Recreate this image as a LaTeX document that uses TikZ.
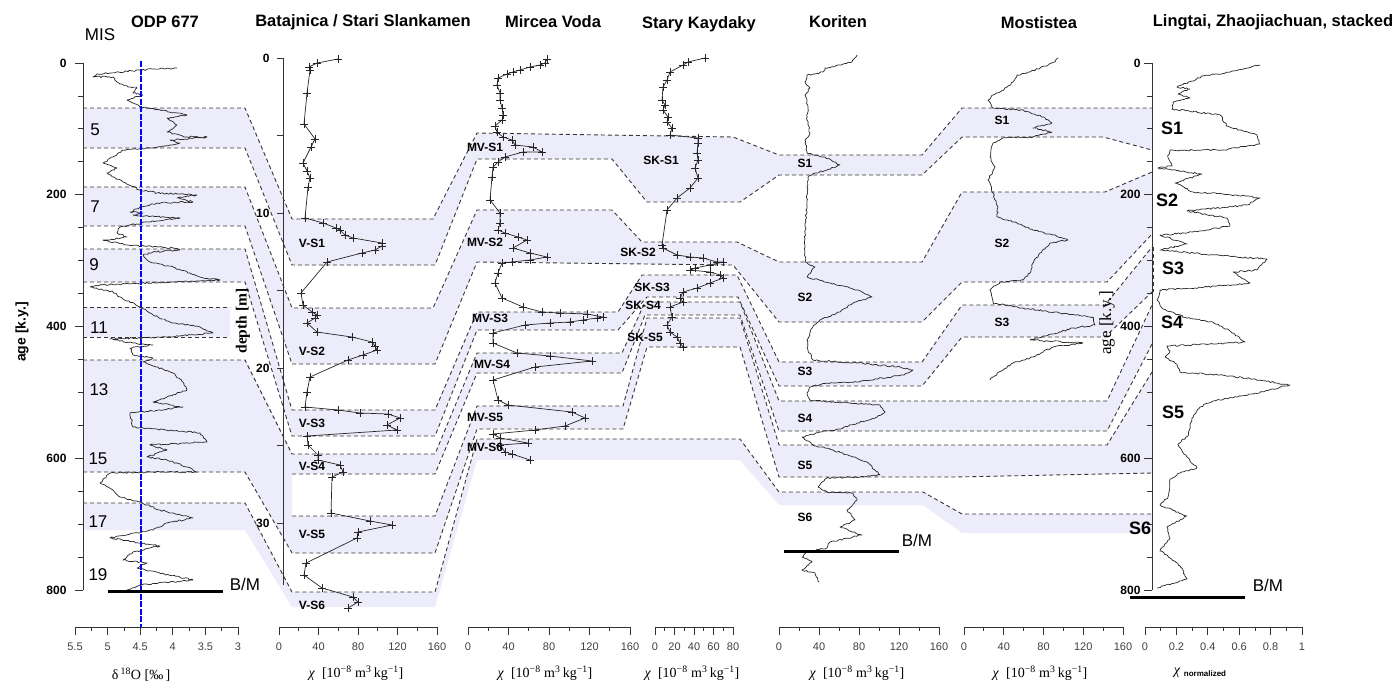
\documentclass[tikz,border=0pt]{standalone}
\usepackage{fontspec}
\setmainfont{Liberation Serif}
\setsansfont{Liberation Sans}
\usetikzlibrary{decorations.pathmorphing}
\definecolor{bandc}{RGB}{236,236,250}
\definecolor{dashc}{RGB}{55,55,55}
\newcommand{\chiunit}{\textit{χ}\ \ [10\textsuperscript{−8} m\textsuperscript{3}\,kg\textsuperscript{−1}]}
\newcommand{\botax}[5]{%
  \draw[ax] (#2,627) -- ({#2+#3*#4},627);
  \foreach \i in {0,...,#4}{\ifodd\i\def\mytl{4}\else\def\mytl{8}\fi
    \draw[ax] ({#2+#3*\i},627) -- ++(0,\mytl);}
  \foreach \i/\l in {#5}{\node[axl] (#1\i) at ({#2+#3*\i},647) {\l};}}
\begin{document}
\begin{tikzpicture}[x=1pt,y=-1pt,
  dl/.style={draw=dashc,line width=0.9pt,dash pattern=on 4pt off 3pt},
  crv/.style={draw=black!85,line width=0.7pt,line join=round},
  jag/.style={crv,decorate,decoration={random steps,segment length=2pt,amplitude=0.8pt}},
  pcrv/.style={crv,mark=+,mark size=3.6pt,mark options={line width=0.8pt}},
  ttl/.style={font=\sffamily\bfseries\fontsize{16.5}{18}\selectfont},
  slbl/.style={font=\sffamily\bfseries\fontsize{12}{14}\selectfont},
  blbl/.style={font=\sffamily\bfseries\fontsize{18}{20}\selectfont},
  mis/.style={font=\sffamily\fontsize{17}{19}\selectfont},
  tickl/.style={font=\sffamily\bfseries\fontsize{12}{14}\selectfont,anchor=east},
  axl/.style={font=\sffamily\fontsize{11}{13}\selectfont,text=black!75},
  axt/.style={font=\rmfamily\fontsize{14}{16}\selectfont},
  ax/.style={draw=black!80,line width=0.8pt},
  bm/.style={draw=black,line width=3pt}]
\useasboundingbox (0,0) rectangle (1396,683);
\fill[white] (0,0) rectangle (1396,683);

% ---------- shaded correlation bands ----------
\fill[bandc] (83,108) -- (245,108) -- (292,219) -- (433,219) -- (477,133) -- (733,137) -- (779,155) -- (922,155) -- (962,108) -- (1152,108) -- (1152,150) -- (1103,137) -- (962,137) -- (922,175) -- (779,175) -- (740,202) -- (647,202) -- (612,159) -- (477,159) -- (435,265) -- (292,265) -- (245,148) -- (83,148) -- cycle;
\fill[bandc] (83,187) -- (245,187) -- (292,308) -- (433,308) -- (477,210) -- (612,210) -- (642,242) -- (737,242) -- (779,262) -- (922,262) -- (962,192) -- (1105,192) -- (1152,172) -- (1152,234) -- (1107,282) -- (962,282) -- (922,322) -- (779,322) -- (733,265) -- (477,262) -- (435,364) -- (292,364) -- (245,226) -- (83,226) -- cycle;
\fill[bandc] (83,249) -- (245,249) -- (292,410) -- (435,410) -- (477,312) -- (618,312) -- (642,275) -- (737,275) -- (779,362) -- (922,362) -- (962,305) -- (1105,305) -- (1152,247) -- (1152,292) -- (1105,337) -- (962,337) -- (922,386) -- (779,386) -- (738,297) -- (647,297) -- (618,330) -- (477,330) -- (435,436) -- (292,436) -- (245,282) -- (83,282) -- cycle;
\fill[bandc] (83,307) rectangle (230,337);
\fill[bandc] (83,360) -- (245,360) -- (292,454) -- (292,553) -- (245,472) -- (83,472) -- cycle;
\fill[bandc] (292,454) -- (435,454) -- (477,353) -- (622,353) -- (645,302) -- (740,302) -- (779,401) -- (1107,401) -- (1152,305) -- (1152,344) -- (1107,431) -- (779,431) -- (740,315) -- (645,315) -- (622,373) -- (477,373) -- (435,474) -- (292,474) -- cycle;
\fill[bandc] (292,516) -- (435,516) -- (477,406) -- (623,406) -- (647,318) -- (740,318) -- (779,445) -- (1107,445) -- (1152,372) -- (1152,473) -- (955,477) -- (779,477) -- (740,347) -- (647,347) -- (623,429) -- (477,429) -- (435,553) -- (292,553) -- cycle;
\fill[bandc] (83,503) -- (245,503) -- (292,592) -- (435,592) -- (477,439) -- (740,439) -- (779,492) -- (923,492) -- (962,514) -- (1152,514) -- (1152,533) -- (962,533) -- (923,505) -- (779,505) -- (740,460) -- (477,460) -- (435,607) -- (292,607) -- (245,530) -- (83,530) -- cycle;

% ---------- dashed band boundaries ----------
\draw[dl] (83,108) -- (245,108) -- (292,219) -- (433,219) -- (477,133) -- (733,137) -- (779,155) -- (922,155) -- (962,108) -- (1152,108);
\draw[dl] (83,148) -- (245,148) -- (292,265) -- (435,265) -- (477,159) -- (612,159) -- (647,202) -- (740,202) -- (779,175) -- (922,175) -- (962,137) -- (1103,137) -- (1152,150);
\draw[dl] (83,187) -- (245,187) -- (292,308) -- (433,308) -- (477,210) -- (612,210) -- (642,242) -- (737,242) -- (779,262) -- (922,262) -- (962,192) -- (1105,192) -- (1152,172);
\draw[dl] (83,226) -- (245,226) -- (292,364) -- (435,364) -- (477,262) -- (733,265) -- (779,322) -- (922,322) -- (962,282) -- (1107,282) -- (1152,234);
\draw[dl] (83,249) -- (245,249) -- (292,410) -- (435,410) -- (477,312) -- (618,312) -- (642,275) -- (737,275) -- (779,362) -- (922,362) -- (962,305) -- (1105,305) -- (1152,247);
\draw[dl] (83,282) -- (245,282) -- (292,436) -- (435,436) -- (477,330) -- (618,330) -- (647,297) -- (738,297) -- (779,386) -- (922,386) -- (962,337) -- (1105,337) -- (1152,292);
\draw[dl] (1153,247) -- (1153,292);
\draw[dl] (83,307) -- (230,307);
\draw[dl] (83,337) -- (230,337);
\draw[dl] (83,360) -- (245,360) -- (292,454) -- (435,454) -- (477,353) -- (622,353) -- (645,302) -- (740,302) -- (779,401) -- (1107,401) -- (1152,305);
\draw[dl] (292,474) -- (435,474) -- (477,373) -- (622,373) -- (645,315) -- (740,315) -- (779,431) -- (1107,431) -- (1152,344);
\draw[dl] (292,516) -- (435,516) -- (477,406) -- (623,406) -- (647,318) -- (740,318) -- (779,445) -- (1107,445) -- (1152,372);
\draw[dl] (83,472) -- (245,472) -- (292,553) -- (435,553) -- (477,429) -- (623,429) -- (647,347) -- (740,347) -- (779,477) -- (955,477) -- (1152,473);
\draw[dl] (83,503) -- (245,503) -- (292,592) -- (435,592) -- (477,439) -- (740,439) -- (779,492) -- (923,492) -- (962,514) -- (1152,514);

% ---------- titles ----------
\node[ttl] (h1) at (165,22) {ODP 677};
\node[ttl] (h2) at (363,22) {Batajnica / Stari Slankamen};
\node[ttl] (h3) at (553,22) {Mircea Voda};
\node[ttl] (h4) at (699,24) {Stary Kaydaky};
\node[ttl] (h5) at (838,22) {Koriten};
\node[ttl] (h6) at (1039,23) {Mostistea};
\node[ttl] (h7) at (1273,22) {Lingtai, Zhaojiachuan, stacked};

% ---------- ODP 677 ----------
\draw[ax] (83,63) -- (83,590);
\foreach \a in {0,50,...,800} \draw[ax] (83,{63+0.65875*\a}) -- ++(-5,0);
\foreach \a in {0,200,...,800} {\draw[ax] (83,{63+0.65875*\a}) -- ++(-8,0);
  \node[tickl] (odpa\a) at (70,{63+0.65875*\a}) {\a};}
\node[font=\sffamily\bfseries\fontsize{14}{16}\selectfont,rotate=90] (agel) at (22,332) {age [k.y.]};
\node[mis] (mis) at (100,35) {MIS};
\node[mis] (m5) at (95,130) {5};
\node[mis] (m7) at (95,207) {7};
\node[mis] (m9) at (94,265) {9};
\node[mis] (m11) at (99,328) {11};
\node[mis] (m13) at (99,390) {13};
\node[mis] (m15) at (98,459) {15};
\node[mis] (m17) at (98,522) {17};
\node[mis] (m19) at (98,575) {19};
\draw[jag] plot coordinates {(177,68) (140,70) (110,73) (97,74) (93,77) (113,77) (117,82) (130,87) (137,88) (133,93) (143,95) (127,100) (133,103) (140,107) (160,110) (187,115) (167,118) (177,125) (167,132) (187,137) (207,137) (170,140) (180,143) (153,148) (123,150) (113,157) (103,163) (117,168) (107,173) (123,182) (140,190) (157,193) (197,195) (177,198) (193,202) (157,203) (140,207) (130,212) (143,213) (133,215) (180,218) (147,222) (120,227) (117,233) (127,237) (103,240) (127,245) (173,248) (180,250) (153,252) (143,255) (150,262) (173,267) (200,277) (220,280) (167,282) (100,285) (90,287) (113,292) (120,297) (140,307) (153,315) (173,323) (200,327) (213,333) (167,337) (110,339) (133,343) (153,345) (130,348) (133,355) (153,358) (143,362) (173,373) (183,382) (187,390) (167,397) (153,402) (183,407) (160,410) (130,413) (133,427) (200,433) (207,442) (150,445) (167,450) (147,457) (167,460) (187,467) (197,472) (173,472) (110,473) (100,483) (113,490) (120,497) (140,502) (160,510) (193,518) (167,523) (153,530) (110,538) (153,545) (160,546) (133,552) (123,560) (147,563) (137,568) (193,580) (140,585) (127,590)};
\draw[blue,line width=2.6pt,dash pattern=on 6pt off 1.5pt] (141,61) -- (141,627);
\draw[bm] (108,591) -- (223,591);
\node[mis] (bm1) at (245,584) {B/M};
\botax{odpx}{75}{16.3}{10}{0/5.5,2/5,4/4.5,6/4,8/3.5,10/3}
\node[axt] (odpt) at (141,675) {δ\,\textsuperscript{18}O [‰\,]};

% ---------- Batajnica ----------
\draw[ax] (283,58) -- (283,585);
\foreach \d in {0,5,...,30} \draw[ax] (283,{58+15.5*\d}) -- ++(-6,0);
\foreach \d in {0,10,20,30} \node[tickl] (batd\d) at (273,{58+15.5*\d}) {\d};
\node[font=\rmfamily\bfseries\fontsize{15.5}{17}\selectfont,rotate=90] (depl) at (243,321) {depth [m]};
\draw[pcrv] plot coordinates {(338,59) (317,63) (309,67) (310,70) (307,93) (304,124) (315,139) (311,147) (303,163) (307,171) (310,178) (308,187) (305,218) (323,223) (336,228) (340,230) (345,235) (353,238) (382,243) (382,246) (375,250) (362,253) (327,262) (301,293) (303,305) (312,312) (317,315) (315,318) (307,323) (317,332) (352,337) (372,342) (375,346) (377,350) (363,355) (348,360) (310,377) (307,392) (305,407) (338,410) (360,413) (388,414) (400,418) (387,425) (397,430) (307,436) (308,445) (318,455) (318,460) (340,465) (343,472) (332,477) (331,513) (370,521) (392,525) (358,532) (357,538) (306,563) (304,575) (322,588) (353,597) (358,602) (348,608)};
\node[slbl] (vs1) at (312,243) {V-S1};
\node[slbl] (vs2) at (312,351) {V-S2};
\node[slbl] (vs3) at (312,423) {V-S3};
\node[slbl] (vs4) at (312,466) {V-S4};
\node[slbl] (vs5) at (312,534) {V-S5};
\node[slbl] (vs6) at (312,605) {V-S6};
\botax{batx}{279}{19.75}{8}{0/0,2/40,4/80,6/120,8/160}
\node[axt] (batt) at (356,673) {\chiunit};

% ---------- Mircea Voda ----------
\draw[pcrv] plot coordinates {(547,59) (545,63) (540,65) (530,67) (520,70) (513,72) (507,74) (498,78) (497,85) (500,93) (500,100) (502,108) (503,115) (502,120) (495,126) (497,132) (503,137) (512,140) (515,145) (533,147) (542,152) (523,152) (505,157) (498,162) (493,167) (492,177) (490,200) (500,213) (500,223) (498,230) (505,233) (518,237) (527,240) (513,248) (530,253) (547,257) (530,260) (512,262) (502,263) (498,273) (495,283) (502,298) (523,307) (542,312) (560,313) (587,314) (603,317) (597,318) (583,320) (570,322) (550,323) (525,325) (493,333) (493,343) (517,353) (550,356) (592,361) (535,367) (493,380) (498,400) (508,405) (572,412) (585,418) (565,426) (535,430) (493,434) (500,438) (528,443) (500,445) (505,452) (512,454) (530,460)};
\node[slbl] (mv1) at (485,147) {MV-S1};
\node[slbl] (mv2) at (485,242) {MV-S2};
\node[slbl] (mv3) at (490,318) {MV-S3};
\node[slbl] (mv4) at (492,364) {MV-S4};
\node[slbl] (mv5) at (485,417) {MV-S5};
\node[slbl] (mv6) at (485,447) {MV-S6};
\botax{mvx}{468}{20.25}{8}{0/0,2/40,4/80,6/120,8/160}
\node[axt] (mvt) at (545,673) {\chiunit};

% ---------- Stary Kaydaky ----------
\draw[pcrv] plot coordinates {(705,58) (688,62) (683,65) (670,72) (667,80) (663,87) (662,100) (665,105) (663,110) (668,117) (667,122) (672,128) (670,135) (698,138) (698,143) (697,153) (698,160) (695,168) (698,178) (690,188) (677,198) (667,210) (662,245) (663,248) (677,255) (690,257) (703,258) (717,262) (723,262) (710,265) (695,268) (690,270) (710,272) (720,275) (723,278) (710,283) (697,288) (683,292) (680,298) (683,302) (670,307) (672,317) (667,325) (670,332) (677,337) (680,343) (683,347)};
\node[slbl] (sk1) at (661,160) {SK-S1};
\node[slbl] (sk2) at (638,252) {SK-S2};
\node[slbl] (sk3) at (652,287) {SK-S3};
\node[slbl] (sk4) at (643,305) {SK-S4};
\node[slbl] (sk5) at (645,337) {SK-S5};
\botax{skx}{655}{9.75}{8}{0/0,2/20,4/40,6/60,8/80}
\node[axt] (skt) at (692,673) {\chiunit};

% ---------- Koriten ----------
\draw[jag] plot coordinates {(857,55) (852,62) (840,65) (825,68) (823,72) (807,75) (805,82) (810,88) (805,95) (808,107) (807,120) (810,133) (805,140) (807,153) (825,157) (840,165) (827,170) (815,173) (808,177) (807,200) (805,233) (805,262) (815,267) (807,277) (830,283) (857,290) (872,297) (853,303) (840,312) (820,320) (812,328) (807,340) (808,350) (813,360) (857,363) (900,367) (913,370) (903,375) (857,382) (827,383) (810,387) (807,393) (810,400) (850,403) (880,405) (885,412) (877,417) (857,423) (840,429) (820,432) (802,437) (813,445) (833,450) (853,457) (867,462) (875,470) (880,475) (860,477) (827,478) (818,487) (827,492) (853,493) (857,500) (847,510) (855,520) (840,527) (862,535) (830,542) (827,548) (807,552) (802,557) (812,562) (802,570) (815,573) (819,582)};
\node[slbl] (ko1) at (805,163) {S1};
\node[slbl] (ko2) at (805,297) {S2};
\node[slbl] (ko3) at (805,371) {S3};
\node[slbl] (ko4) at (805,418) {S4};
\node[slbl] (ko5) at (805,465) {S5};
\node[slbl] (ko6) at (805,517) {S6};
\draw[bm] (784,551) -- (899,551);
\node[mis] (bm2) at (917,540) {B/M};
\botax{kox}{779}{20}{8}{0/0,2/40,4/80,6/120,8/160}
\node[axt] (kot) at (857,673) {\chiunit};

% ---------- Mostistea ----------
\draw[jag] plot coordinates {(1058,58) (1055,62) (1040,68) (1030,72) (1017,75) (1013,82) (1007,87) (1000,92) (993,95) (988,100) (993,108) (1023,110) (1043,117) (1052,123) (1033,128) (1052,132) (1033,137) (1003,138) (993,143) (990,157) (995,167) (988,180) (993,193) (998,207) (997,217) (1007,220) (1017,223) (1033,230) (1053,235) (1068,240) (1050,243) (1040,253) (1033,263) (1030,273) (1023,280) (1000,282) (990,290) (993,303) (1023,308) (1060,313) (1093,317) (1095,325) (1073,328) (1053,334) (1030,340) (1083,343) (1053,347) (1033,357) (1013,363) (1003,370) (993,377) (990,380)};
\node[slbl] (mo1) at (1002,120) {S1};
\node[slbl] (mo2) at (1002,243) {S2};
\node[slbl] (mo3) at (1002,322) {S3};
\botax{mox}{964}{19.875}{8}{0/0,2/40,4/80,6/120,8/160}
\node[axt] (mot) at (1040,673) {\chiunit};

% ---------- Lingtai ----------
\draw[ax] (1152,63) -- (1152,590);
\foreach \a in {0,50,...,800} \draw[ax] (1152,{63+0.65875*\a}) -- ++(-5,0);
\foreach \a in {0,200,...,800} {\draw[ax] (1152,{63+0.65875*\a}) -- ++(-8,0);
  \node[tickl] (lia\a) at (1144,{63+0.65875*\a}) {\a};}
\node[font=\rmfamily\fontsize{17}{19}\selectfont,rotate=90] (ager) at (1107,323) {age [k.y.]};
\draw[jag] plot coordinates {(1260,65) (1230,72) (1203,76) (1192,81) (1177,87) (1190,89) (1178,94) (1190,98) (1173,102) (1172,109) (1220,115) (1227,126) (1243,131) (1257,135) (1260,144) (1223,150) (1170,150) (1168,157) (1172,166) (1158,168) (1187,172) (1202,174) (1175,183) (1193,192) (1247,196) (1260,198) (1247,205) (1187,211) (1227,218) (1230,226) (1187,233) (1160,235) (1187,244) (1160,250) (1237,257) (1267,259) (1257,270) (1233,272) (1250,283) (1207,287) (1160,290) (1157,300) (1163,309) (1187,318) (1213,322) (1230,331) (1245,342) (1213,344) (1167,346) (1170,351) (1165,357) (1177,364) (1180,372) (1220,375) (1253,379) (1290,385) (1253,394) (1213,401) (1200,407) (1192,418) (1188,436) (1178,444) (1182,451) (1187,457) (1197,468) (1180,473) (1170,479) (1168,497) (1160,505) (1187,516) (1167,527) (1170,538) (1160,551) (1167,555) (1180,566) (1187,579) (1157,588)};
\node[blbl] (li1) at (1172,128) {S1};
\node[blbl] (li2) at (1167,200) {S2};
\node[blbl] (li3) at (1173,268) {S3};
\node[blbl] (li4) at (1172,322) {S4};
\node[blbl] (li5) at (1173,412) {S5};
\node[blbl] (li6) at (1140,528) {S6};
\draw[bm] (1130,597) -- (1245,597);
\node[mis] (bm3) at (1268,585) {B/M};
\botax{lix}{1145}{15.7}{10}{0/0,2/0.2,4/0.4,6/0.6,8/0.8,10/1}
\node[axt] (lit) at (1200,673) {\textit{χ}\ \raisebox{-2pt}{\sffamily\bfseries\fontsize{8}{9}\selectfont normalized}};
\end{tikzpicture}
\end{document}
